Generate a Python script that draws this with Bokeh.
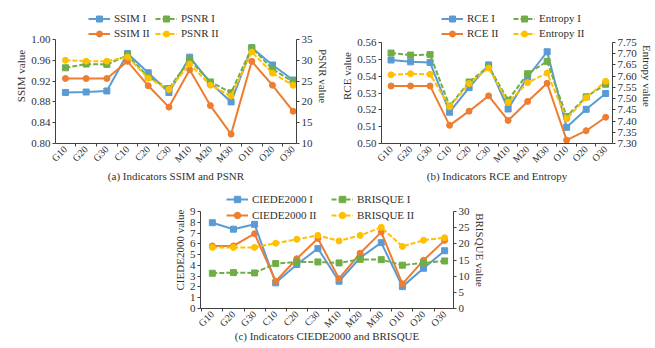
import math
from bokeh.plotting import figure
from bokeh.models import Range1d, LinearAxis, FixedTicker, Legend, LegendItem, Spacer, NumeralTickFormatter
from bokeh.layouts import column, row
from bokeh.embed import file_html
from bokeh.resources import INLINE

categories = ["G10", "G20", "G30", "C10", "C20", "C30", "M10", "M20", "M30", "O10", "O20", "O30"]

ssim_1 = [0.898, 0.899, 0.901, 0.973, 0.936, 0.898, 0.966, 0.917, 0.880, 0.984, 0.951, 0.922]
ssim_2 = [0.925, 0.925, 0.925, 0.958, 0.911, 0.870, 0.942, 0.873, 0.818, 0.958, 0.912, 0.862]
psnr_1 = [28.2, 29.1, 29.0, 31.2, 26.0, 23.2, 30.1, 24.8, 22.2, 33.0, 27.9, 24.8]
psnr_2 = [30.0, 29.8, 29.8, 30.8, 25.7, 23.0, 29.1, 24.0, 21.4, 32.0, 26.9, 24.0]

rce_1 = [0.5496, 0.5485, 0.5481, 0.5186, 0.5332, 0.5467, 0.5205, 0.5395, 0.5545, 0.5096, 0.5203, 0.5297]
rce_2 = [0.5342, 0.5342, 0.5342, 0.5108, 0.5192, 0.5283, 0.5137, 0.5250, 0.5358, 0.5020, 0.5076, 0.5156]
entropy_1 = [7.703, 7.694, 7.696, 7.467, 7.574, 7.643, 7.493, 7.611, 7.666, 7.420, 7.508, 7.564]
entropy_2 = [7.606, 7.611, 7.608, 7.464, 7.567, 7.636, 7.483, 7.571, 7.614, 7.410, 7.504, 7.577]

ciede_1 = [7.96, 7.36, 7.81, 2.38, 4.08, 5.57, 2.53, 4.71, 6.11, 2.03, 3.73, 5.36]
ciede_2 = [5.81, 5.81, 6.94, 2.53, 4.62, 6.50, 2.77, 5.13, 7.09, 2.29, 4.47, 6.32]
brisque_1 = [10.9, 11.1, 11.0, 13.9, 14.4, 14.4, 14.1, 15.2, 15.1, 13.4, 14.1, 14.7]
brisque_2 = [18.9, 18.9, 18.9, 20.2, 21.4, 22.6, 20.9, 22.6, 25.1, 19.2, 21.1, 21.9]

ssim_ticks = [0.80, 0.84, 0.88, 0.92, 0.96, 1.00]
psnr_ticks = [10, 15, 20, 25, 30, 35]
rce_ticks = [0.50, 0.51, 0.52, 0.53, 0.54, 0.55, 0.56]
entropy_ticks = [7.30, 7.35, 7.40, 7.45, 7.50, 7.55, 7.60, 7.65, 7.70, 7.75]
ciede_ticks = [0, 1, 2, 3, 4, 5, 6, 7, 8, 9]
brisque_ticks = [0, 5, 10, 15, 20, 25, 30]

BLUE = "#5B9BD5"
ORANGE = "#ED7D31"
GREEN = "#70AD47"
YELLOW = "#FFC000"
FONT = "Liberation Serif"
AXC = "#404040"
TXT = "#303030"

xs = list(range(len(categories)))


def style_axis(ax, ticks, fmt=None, size="11px"):
    ax.ticker = FixedTicker(ticks=ticks)
    if fmt:
        ax.formatter = NumeralTickFormatter(format=fmt)
    ax.axis_line_color = AXC
    ax.major_tick_line_color = AXC
    ax.major_tick_out = 3
    ax.major_tick_in = 0
    ax.minor_tick_line_color = None
    ax.major_label_text_font = FONT
    ax.major_label_text_font_size = size
    ax.major_label_text_color = TXT
    ax.major_label_standoff = 2
    ax.axis_label_text_font = FONT
    ax.axis_label_text_font_size = "11px"
    ax.axis_label_text_font_style = "normal"
    ax.axis_label_text_color = TXT
    ax.axis_label_standoff = 1


def padded(lo, hi, data_px, pad_px):
    # extend the range upward so that the legend area above the axes lies inside the frame
    return (lo, hi + (hi - lo) * pad_px / data_px)


def make_panel(width, height, borders, data_px, pad_px, xr, yl, yr, lticks, rticks, lfmt, rfmt,
               llabel, rlabel, caption, series, leg_pos, row_h, cap_standoff):
    bl, br, bt, bb = borders
    p = figure(width=width, height=height, output_backend="svg", toolbar_location=None,
               x_range=Range1d(*xr), y_range=Range1d(*padded(*yl, data_px, pad_px)),
               min_border_left=bl, min_border_right=br, min_border_top=bt, min_border_bottom=bb)
    p.outline_line_color = None
    p.background_fill_color = "white"
    p.border_fill_color = "white"
    p.xgrid.visible = False
    p.ygrid.visible = False
    p.extra_y_ranges = {"r": Range1d(*padded(*yr, data_px, pad_px))}

    xa = p.xaxis[0]
    style_axis(xa, xs, size="10px")
    xa.ticker = FixedTicker(ticks=xs, minor_ticks=[i - 0.5 for i in range(len(categories) + 1)])
    xa.major_label_overrides = {i: c for i, c in enumerate(categories)}
    xa.major_label_orientation = math.pi / 4
    xa.major_tick_out = 0
    xa.minor_tick_line_color = AXC
    xa.minor_tick_out = 3
    xa.minor_tick_in = 0
    xa.major_label_standoff = 1
    xa.axis_label = caption
    xa.axis_label_standoff = cap_standoff

    ya = p.yaxis[0]
    style_axis(ya, lticks, lfmt)
    ya.bounds = yl
    ya.axis_label = llabel

    ra = LinearAxis(y_range_name="r")
    style_axis(ra, rticks, rfmt)
    ra.bounds = yr
    ra.axis_label = rlabel
    p.add_layout(ra, "right")

    items = []
    for name, vals, color, marker, dashed, rng in series:
        kw = {} if rng is None else {"y_range_name": rng}
        ln = p.line(xs, vals, line_color=color, line_width=2,
                    line_dash=("5 2" if dashed else "solid"), **kw)
        mk = p.scatter(xs, vals, marker=marker, size=6, fill_color=color, line_color=color, **kw)
        items.append(LegendItem(label=name, renderers=[ln, mk]))

    for k, (vx, vy) in enumerate(leg_pos):
        lg = Legend(items=items[2 * k:2 * k + 2], location=(vx, vy), orientation="vertical",
                    background_fill_alpha=0, border_line_color=None, padding=0, margin=0,
                    spacing=0, label_height=row_h, glyph_height=row_h, glyph_width=22,
                    label_standoff=4, label_text_font=FONT, label_text_font_size="11px",
                    label_text_color=TXT)
        p.add_layout(lg, "center")
    return p


pa = make_panel(338, 185, (55, 42, 8, 42), 104, 31, (-0.48, 11.16), (0.80, 1.00), (10, 35),
                ssim_ticks, psnr_ticks, "0.00", None, "SSIM value", "PSNR value",
                "(a) Indicators SSIM and PSNR",
                [("SSIM I", ssim_1, BLUE, "square", False, None),
                 ("SSIM II", ssim_2, ORANGE, "circle", False, None),
                 ("PSNR I", psnr_1, GREEN, "square", True, "r"),
                 ("PSNR II", psnr_2, YELLOW, "circle", True, "r")],
                [(33, 102.5), (100, 102.5)], 15, -2)

pb = make_panel(317, 185, (37, 40, 8, 42), 101, 34, (-0.49, 11.35), (0.50, 0.56), (7.30, 7.75),
                rce_ticks, entropy_ticks, "0.00", "0.00", "RCE value", "Entropy value",
                "(b) Indicators RCE and Entropy",
                [("RCE I", rce_1, BLUE, "square", False, None),
                 ("RCE II", rce_2, ORANGE, "circle", False, None),
                 ("Entropy I", entropy_1, GREEN, "square", True, "r"),
                 ("Entropy II", entropy_2, YELLOW, "circle", True, "r")],
                [(60, 102.5), (132, 102.5)], 15, -2)

pc = make_panel(320, 163, (26, 37, 6, 40), 97, 20, (-0.56, 11.42), (0, 9), (0, 30),
                ciede_ticks, brisque_ticks, None, None, "CIEDE2000 value", "BRISQUE value",
                "(c) Indicators CIEDE2000 and BRISQUE",
                [("CIEDE2000 I", ciede_1, BLUE, "square", False, None),
                 ("CIEDE2000 II", ciede_2, ORANGE, "circle", False, None),
                 ("BRISQUE I", brisque_1, GREEN, "square", True, "r"),
                 ("BRISQUE II", brisque_2, YELLOW, "circle", True, "r")],
                [(26, 85), (131, 85)], 16, -7)

layout = column(row(pa, pb), row(Spacer(width=170, height=163), pc), spacing=0)

open("out.html", "w").write(file_html(layout, INLINE))
